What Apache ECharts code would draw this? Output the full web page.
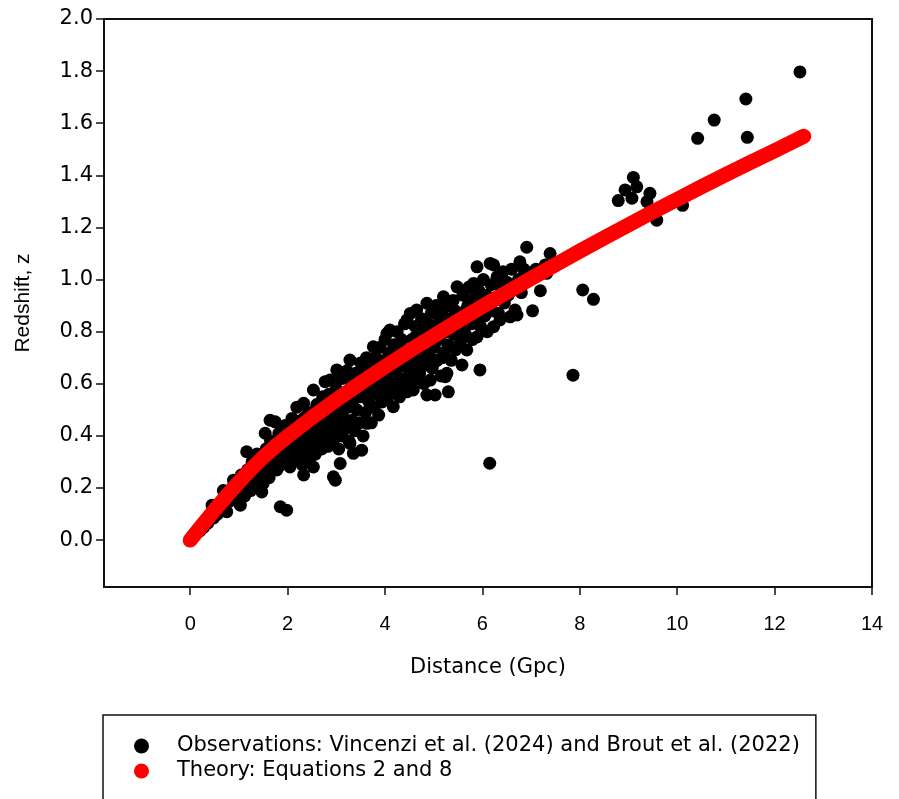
<!DOCTYPE html>
<html>
<head>
<meta charset="utf-8">
<script src="https://cdn.jsdelivr.net/npm/echarts@6/dist/echarts.min.js"></script>
<style>
html,body{margin:0;padding:0;background:#fff;overflow:hidden;}
#chart{width:899px;height:840px;}
</style>
</head>
<body>
<div id="chart"></div>
<script>
// ---- Data ----
var xTicks = [0, 2, 4, 6, 8, 10, 12, 14];
var yTicks = [0, 0.2, 0.4, 0.6, 0.8, 1.0, 1.2, 1.4, 1.6, 1.8, 2.0];

var obsName = 'Observations: Vincenzi et al. (2024) and Brout et al. (2022)';
var theoryName = 'Theory: Equations 2 and 8';

// Observed supernovae: [distance Gpc, redshift z]
var observations = [
[0.03,0.008],[0.08,0.02],[0.12,0.028],[0.16,0.04],[0.2,0.035],[0.24,0.055],[0.28,0.05],[0.32,0.075],[0.36,0.065],[0.4,0.09],[0.45,0.134],[0.48,0.085],[0.52,0.115],[0.56,0.1],[0.6,0.14],[0.64,0.115],[0.68,0.19],[0.7,0.13],[0.75,0.109],[0.78,0.175],[0.82,0.15],[0.86,0.2],[0.89,0.23],[0.92,0.165],[0.96,0.21],[1.0,0.185],[1.03,0.134],
[1.05,0.25],[1.08,0.21],[1.12,0.17],[1.16,0.339],[1.18,0.27],[1.2,0.22],[1.24,0.19],[1.27,0.3],[1.3,0.25],[1.33,0.21],[1.35,0.28],[1.37,0.33],[1.4,0.27],[1.42,0.23],[1.47,0.185],[1.48,0.31],[1.5,0.218],[1.52,0.26],[1.54,0.41],[1.56,0.35],[1.58,0.29],[1.6,0.33],[1.62,0.24],[1.64,0.46],[1.65,0.38],[1.68,0.32],[1.7,0.27],[1.745,0.454],[1.75,0.36],[1.77,0.30],[1.78,0.269],[1.82,0.41],[1.84,0.34],[1.85,0.128],[1.87,0.29],[1.88,0.34],[1.9,0.385],[1.92,0.32],[1.95,0.44],[1.98,0.115],[1.99,0.36],[2.0,0.30],[2.03,0.41],[2.05,0.281],[2.07,0.34],
[2.09,0.467],[2.1,0.39],[2.12,0.37],[2.13,0.31],[2.16,0.43],[2.19,0.51],[2.2,0.36],[2.23,0.41],[2.26,0.33],[2.28,0.46],[2.3,0.29],[2.33,0.25],[2.33,0.525],[2.35,0.47],[2.36,0.39],[2.38,0.35],[2.4,0.44],[2.43,0.49],[2.45,0.31],[2.47,0.41],[2.5,0.37],[2.53,0.281],[2.53,0.576],[2.55,0.46],[2.57,0.33],[2.58,0.5],[2.6,0.52],[2.62,0.42],[2.65,0.38],[2.67,0.48],[2.69,0.41],[2.7,0.35],[2.72,0.55],[2.74,0.44],[2.77,0.608],[2.78,0.40],[2.8,0.5],[2.83,0.36],[2.85,0.56],[2.87,0.371],[2.87,0.614],[2.88,0.46],[2.9,0.42],[2.92,0.47],[2.93,0.53],[2.94,0.243],[2.96,0.39],[2.98,0.23],[2.98,0.49],[3.0,0.58],[3.01,0.653],[3.03,0.44],
[3.05,0.35],[3.08,0.294],[3.08,0.52],[3.1,0.62],[3.12,0.40],[3.14,0.47],[3.15,0.5],[3.17,0.56],[3.2,0.43],[3.22,0.65],[3.24,0.51],[3.26,0.38],[3.27,0.44],[3.28,0.691],[3.28,0.371],[3.3,0.59],[3.32,0.46],[3.33,0.61],[3.35,0.333],[3.36,0.54],[3.38,0.42],[3.4,0.64],[3.42,0.50],[3.44,0.55],[3.45,0.6],[3.47,0.45],[3.5,0.68],[3.52,0.345],[3.53,0.55],[3.55,0.4],[3.57,0.62],[3.58,0.66],[3.6,0.49],[3.62,0.7],[3.63,0.448],[3.65,0.58],[3.67,0.53],[3.69,0.56],[3.7,0.66],[3.72,0.45],[3.74,0.6],[3.76,0.742],[3.78,0.51],[3.8,0.7],[3.82,0.56],[3.83,0.6],[3.85,0.64],[3.87,0.48],[3.88,0.69],[3.9,0.74],[3.92,0.6],[3.94,0.53],[3.96,0.68],[3.98,0.57],
[4.0,0.77],[4.02,0.63],[4.03,0.59],[4.04,0.793],[4.06,0.55],[4.08,0.71],[4.1,0.806],[4.11,0.72],[4.12,0.6],[4.14,0.67],[4.17,0.512],[4.18,0.75],[4.2,0.58],[4.22,0.64],[4.24,0.67],[4.25,0.8],[4.27,0.7],[4.28,0.6],[4.3,0.55],[4.32,0.62],[4.34,0.77],[4.36,0.73],[4.37,0.67],[4.4,0.83],[4.42,0.6],[4.45,0.845],[4.45,0.569],[4.47,0.72],[4.48,0.61],[4.5,0.65],[4.52,0.87],[4.55,0.77],[4.57,0.7],[4.58,0.576],[4.6,0.69],[4.62,0.82],[4.63,0.78],[4.65,0.883],[4.66,0.62],[4.68,0.74],[4.7,0.79],[4.71,0.64],[4.73,0.66],[4.75,0.85],[4.78,0.71],[4.79,0.81],[4.8,0.6],[4.82,0.77],[4.84,0.68],[4.86,0.909],[4.86,0.557],[4.88,0.83],[4.9,0.72],[4.92,0.76],[4.93,0.614],[4.95,0.87],[4.97,0.66],[4.99,0.79],
[5.0,0.68],[5.01,0.74],[5.03,0.557],[5.05,0.9],[5.07,0.69],[5.1,0.83],[5.12,0.77],[5.13,0.86],[5.15,0.63],[5.17,0.87],[5.18,0.7],[5.2,0.934],[5.21,0.72],[5.24,0.627],[5.25,0.8],[5.27,0.64],[5.28,0.9],[5.3,0.569],[5.3,0.75],[5.33,0.85],[5.34,0.8],[5.36,0.69],[5.4,0.92],[5.42,0.79],[5.44,0.88],[5.45,0.73],[5.48,0.972],[5.5,0.87],[5.52,0.82],[5.55,0.76],[5.56,0.8],[5.58,0.672],[5.6,0.94],[5.62,0.85],[5.65,0.79],[5.66,0.88],[5.68,0.73],[5.7,0.9],[5.72,0.97],[5.75,0.972],[5.77,0.83],[5.79,0.86],[5.8,0.77],[5.82,0.985],[5.84,0.93],[5.87,0.86],[5.89,1.049],[5.89,0.78],[5.92,0.96],[5.93,0.87],[5.95,0.653],[5.96,0.82],[5.98,0.9],
[6.02,1.0],[6.05,0.86],[6.08,0.94],[6.1,0.8],[6.15,0.295],[6.16,1.062],[6.18,0.98],[6.2,0.88],[6.23,1.056],[6.23,0.819],[6.26,0.93],[6.3,1.01],[6.33,0.87],[6.36,0.845],[6.38,0.97],[6.42,1.03],[6.45,0.91],[6.5,0.99],[6.53,0.94],[6.57,0.857],[6.6,1.04],[6.63,0.97],[6.67,0.883],[6.71,0.864],[6.74,1.0],[6.77,1.068],[6.8,0.95],[6.85,1.04],[6.91,1.124],[6.95,1.0],[7.03,0.88],[7.1,1.04],[7.19,0.957],[7.29,1.056],[7.32,1.024],[7.39,1.1],
[7.86,0.633],[8.06,0.96],[8.28,0.924],[8.79,1.303],[8.93,1.344],[9.07,1.312],[9.1,1.392],[9.17,1.356],[9.38,1.299],[9.44,1.331],[9.58,1.228],[10.11,1.285],[10.42,1.542],[10.76,1.612],[11.41,1.693],[11.44,1.546],[12.52,1.797]
];

// Theory curve samples: distance (Gpc) and redshift
var theoryD = [0, 0.25, 0.5, 0.75, 1.0, 1.25, 1.5, 1.75, 2.0, 2.5, 3.0, 3.5, 4.0, 4.5, 5.0, 5.5, 6.0, 6.5, 7.0, 7.5, 8.0, 8.5, 9.0, 9.5, 10.0, 10.5, 11.0, 11.5, 12.0, 12.6];
var theoryZ = [0, 0.058, 0.115, 0.17, 0.222, 0.272, 0.318, 0.36, 0.398, 0.47, 0.538, 0.603, 0.665, 0.726, 0.784, 0.841, 0.897, 0.95, 1.004, 1.057, 1.109, 1.16, 1.21, 1.26, 1.308, 1.356, 1.403, 1.449, 1.494, 1.55];

var theory = theoryD.map(function (d, i) { return [d, theoryZ[i]]; });

var FONT = "'Liberation Sans', Arial, Helvetica, sans-serif";
var WIDE = "'DejaVu Sans', 'Liberation Sans', Arial, sans-serif";

var chart = echarts.init(document.getElementById('chart'), null, {renderer: 'canvas'});
chart.setOption({
  animation: false,
  backgroundColor: '#ffffff',
  grid: {
    left: 104, right: 27, top: 19, bottom: 253,
    show: true, borderColor: '#111', borderWidth: 2, backgroundColor: 'transparent'
  },
  xAxis: {
    type: 'value', min: -1.77, max: 14,
    splitLine: {show: false},
    axisLine: {show: false, onZero: false},
    axisTick: {show: true, length: 8, lineStyle: {color: '#111', width: 1.5}, customValues: xTicks},
    axisLabel: {customValues: xTicks, margin: 27, fontSize: 20, color: '#000', fontFamily: FONT},
    name: 'Distance (Gpc)', nameLocation: 'middle', nameGap: 70,
    nameTextStyle: {fontSize: 21, color: '#000', fontFamily: WIDE}
  },
  yAxis: {
    type: 'value', min: -0.18, max: 2.0,
    splitLine: {show: false},
    axisLine: {show: false, onZero: false},
    axisTick: {show: true, length: 8, lineStyle: {color: '#111', width: 1.5}, customValues: yTicks},
    axisLabel: {customValues: yTicks, margin: 11, fontSize: 21, color: '#000', fontFamily: WIDE,
      formatter: function (v) { return Number(v).toFixed(1); }},
    name: 'Redshift, z', nameLocation: 'middle', nameGap: 70, nameRotate: 90,
    nameTextStyle: {fontSize: 21, color: '#000', fontFamily: FONT}
  },
  legend: {
    left: 103, top: 715, orient: 'vertical',
    padding: [20, 16, 40, 31],
    itemWidth: 15, itemHeight: 15, itemGap: 3,
    borderColor: '#111', borderWidth: 1.5,
    selectedMode: false,
    textStyle: {fontSize: 21, color: '#000', fontFamily: WIDE, lineHeight: 22, padding: [0, 0, 0, 23]},
    data: [{name: obsName, icon: 'circle'}, {name: theoryName, icon: 'circle'}]
  },
  series: [
    {
      name: obsName, type: 'scatter', data: observations,
      symbol: 'circle', symbolSize: 13,
      itemStyle: {color: '#000000', opacity: 1}, z: 2
    },
    {
      name: theoryName, type: 'line', data: theory,
      showSymbol: false, symbol: 'circle', smooth: false,
      itemStyle: {color: '#ff0000'},
      lineStyle: {color: '#ff0000', width: 15, cap: 'round', join: 'round'},
      z: 3
    }
  ]
});
</script>
</body>
</html>
